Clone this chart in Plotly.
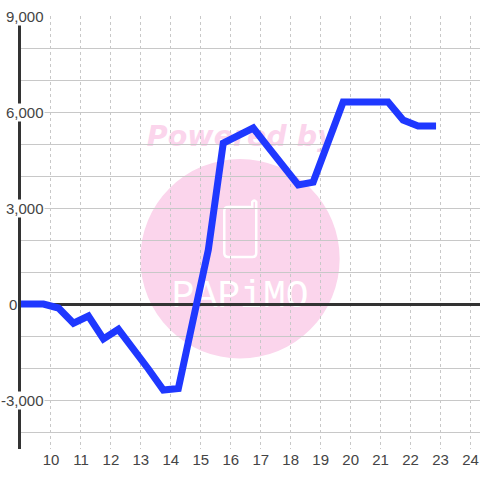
import plotly.graph_objects as go

hours = [8.92, 9.25, 9.75, 10.25, 10.75, 11.25, 11.75, 12.25, 12.75, 13.25, 13.75, 14.25, 14.75,
         15.25, 15.75, 16.25, 16.75, 17.25, 17.75, 18.25, 18.75, 19.25, 19.75, 20.25, 20.75,
         21.25, 21.75, 22.25, 22.85]
values = [0, 0, 0, -125, -600, -375, -1090, -790, -1375, -2030, -2690, -2640, -470,
          1690, 5030, 5265, 5500, 4900, 4280, 3720, 3810, 5060, 6310, 6310, 6310,
          6310, 5750, 5560, 5560]
x_ticks = list(range(10, 25))
y_grid = list(range(-4000, 9001, 1000))
y_labels = {9000: "9,000", 6000: "6,000", 3000: "3,000", 0: "0", -3000: "-3,000"}
y_label_right = {9000: 45, 6000: 45, 3000: 45, 0: 17, -3000: 45}

W, H = 480, 480
L, R, T, B = 20.5, 0, 16, 31
PINK = "#fbd5ec"
INK = "#444444"
FONT = "Liberation Sans, Arial, sans-serif"


def px(x):
    return (x - L) / (W - L - R)


def py(y):
    return 1 - (y - T) / (H - T - B)


def box(x0, y0, x1, y1):
    return dict(xref="paper", yref="paper", x0=px(x0), x1=px(x1), y0=py(y1), y1=py(y0))


phone = (f"M {px(228)} {py(207)} L {px(252)} {py(207)} L {px(252)} {py(202)} Q {px(254)} {py(199)} {px(256)} {py(202)} "
         f"L {px(256)} {py(253)} Q {px(256)} {py(257)} {px(252)} {py(257)} L {px(228)} {py(257)} "
         f"Q {px(224)} {py(257)} {px(224)} {py(253)} L {px(224)} {py(211)} Q {px(224)} {py(207)} {px(228)} {py(207)} Z")

shapes = [
    dict(type="circle", layer="below", fillcolor=PINK, line_width=0, **box(140, 159, 339.5, 358.5)),
    dict(type="path", layer="below", path=phone, xref="paper", yref="paper",
         line=dict(color="white", width=2.5), fillcolor="rgba(0,0,0,0)"),
    dict(type="rect", layer="below", line_width=0, fillcolor="rgba(0,0,0,0)", **box(141, 118, 341, 150),
         label=dict(text="<b><i>Powered by</i></b>", textposition="middle center",
                    font=dict(family="DejaVu Sans", size=28.5, color=PINK))),
    dict(type="rect", layer="below", line_width=0, fillcolor="rgba(0,0,0,0)", **box(160, 268, 320, 312),
         label=dict(text="PAPiMO", textposition="middle center",
                    font=dict(family="Liberation Mono", size=38, color="white"))),
]

annotations = [
    dict(xref="paper", yref="y", x=px(y_label_right[v]), y=v, text=t, showarrow=False,
         xanchor="right", yanchor="middle", bgcolor="white", borderpad=0,
         font=dict(family=FONT, size=15, color=INK))
    for v, t in y_labels.items()
]

fig = go.Figure(go.Scatter(x=hours, y=values, mode="lines", cliponaxis=False, hoverinfo="skip",
                           line=dict(color="#1f38ff", width=7)))
fig.update_layout(
    width=W, height=H, margin=dict(l=L, r=R, t=T, b=B, pad=0), showlegend=False,
    paper_bgcolor="white", plot_bgcolor="white", shapes=shapes, annotations=annotations,
    xaxis=dict(range=[9, 9 + (W - L - R) / 30], tickvals=x_ticks, ticktext=[str(v) for v in x_ticks],
               showgrid=True, gridcolor="#c8c8c8", gridwidth=1, griddash="3px,3px", zeroline=False,
               showline=False, ticks="", tickfont=dict(family=FONT, size=15, color=INK)),
    yaxis=dict(range=[-4531, 9000], tickvals=y_grid, showticklabels=False, showgrid=True,
               gridcolor="#c8c8c8", gridwidth=1.3, zeroline=True, zerolinecolor="#333333", zerolinewidth=3,
               showline=True, linecolor="#333333", linewidth=3, ticks="", layer="below traces"),
)
fig.write_html("out.html", config=dict(displayModeBar=False),
               post_script="document.documentElement.style.margin='0';document.body.style.margin='0';document.body.style.overflow='hidden';")
